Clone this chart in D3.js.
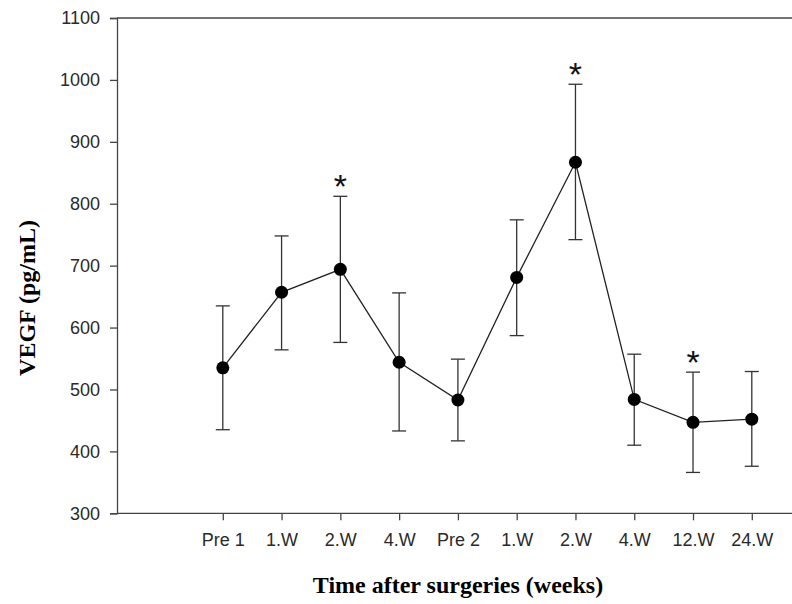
<!DOCTYPE html>
<html><head><meta charset="utf-8">
<script src="https://cdn.jsdelivr.net/npm/d3@7"></script>
<style>body{margin:0;background:#fff}svg{display:block}</style>
</head><body>
<script>
const categories = ["Pre 1","1.W","2.W","4.W","Pre 2","1.W","2.W","4.W","12.W","24.W"];
const means = [535, 657, 694, 544, 483, 681, 867, 484, 447, 452];
const upper = [635, 748, 812, 656, 549, 774, 993, 557, 528, 529];
const lower = [435, 564, 576, 433, 417, 587, 742, 410, 366, 376];
const significant = [false, false, true, false, false, false, true, false, true, false];
const yTicks = [300,400,500,600,700,800,900,1000,1100];

const W = 792, H = 604;
const svg = d3.select("body").append("svg").attr("width", W).attr("height", H);
const x = d3.scaleLinear().domain([-1.8, 9.65]).range([117, 790]);
const y = d3.scaleLinear().domain([300, 1100]).range([513.3, 18]);
const data = categories.map((c,i)=>({c, i, m:means[i], u:upper[i], l:lower[i], s:significant[i]}));
const sans = "Liberation Sans, Arial, sans-serif";
const serif = "Liberation Serif, Times New Roman, serif";

// top frame line
svg.append("line").attr("x1", 117).attr("x2", 792).attr("y1", y(1100)).attr("y2", y(1100))
  .attr("stroke", "#444").attr("stroke-width", 1.3);

// y axis
const ya = svg.append("g").attr("transform", "translate(117,0)")
  .call(d3.axisLeft(y).tickValues(yTicks).tickSize(7).tickPadding(10).tickFormat(d3.format("d")));
ya.select(".domain").attr("stroke", "#444").attr("stroke-width", 1.3);
ya.selectAll(".tick line").attr("stroke", "#444").attr("stroke-width", 1.3);
ya.selectAll("text").style("font-family", sans).style("font-size", "18px").attr("fill", "#2a2a2a");

// x axis
const xa = svg.append("g").attr("transform", `translate(0,${y(300)})`)
  .call(d3.axisBottom(x).tickValues(d3.range(categories.length)).tickSize(7).tickPadding(13)
    .tickFormat(i => categories[i]));
xa.select(".domain").attr("d", `M117,0H792`).attr("stroke", "#444").attr("stroke-width", 1.3);
xa.selectAll(".tick line").attr("stroke", "#444").attr("stroke-width", 1.3);
xa.selectAll("text").style("font-family", sans).style("font-size", "18px").attr("fill", "#2a2a2a");

// error bars
const eb = svg.append("g").attr("stroke", "#333").attr("stroke-width", 1.3);
data.forEach(d => {
  eb.append("line").attr("x1", x(d.i)).attr("x2", x(d.i)).attr("y1", y(d.u)).attr("y2", y(d.l));
  eb.append("line").attr("x1", x(d.i)-7).attr("x2", x(d.i)+7).attr("y1", y(d.u)).attr("y2", y(d.u));
  eb.append("line").attr("x1", x(d.i)-7).attr("x2", x(d.i)+7).attr("y1", y(d.l)).attr("y2", y(d.l));
});

// line
svg.append("path").datum(data)
  .attr("d", d3.line().x(d => x(d.i)).y(d => y(d.m)))
  .attr("fill", "none").attr("stroke", "#222").attr("stroke-width", 1.3);

// points
svg.append("g").selectAll("circle").data(data).join("circle")
  .attr("cx", d => x(d.i)).attr("cy", d => y(d.m)).attr("r", 6.5).attr("fill", "#000");

// asterisks
svg.append("g").selectAll("text").data(data.filter(d => d.s)).join("text")
  .attr("x", d => x(d.i)).attr("y", d => y(d.u) + 2).attr("text-anchor", "middle")
  .style("font-family", sans).style("font-size", "34px").attr("fill", "#111")
  .text("*");

// axis titles
svg.append("text").attr("x", 458).attr("y", 593).attr("text-anchor", "middle")
  .style("font-family", serif).style("font-weight", "bold")
  .style("font-size", "24px").attr("fill", "#000").text("Time after surgeries (weeks)");
svg.append("text").attr("transform", "translate(35,298) rotate(-90)").attr("text-anchor", "middle")
  .style("font-family", serif).style("font-weight", "bold")
  .style("font-size", "24px").attr("fill", "#000").text("VEGF (pg/mL)");
</script>
</body></html>
